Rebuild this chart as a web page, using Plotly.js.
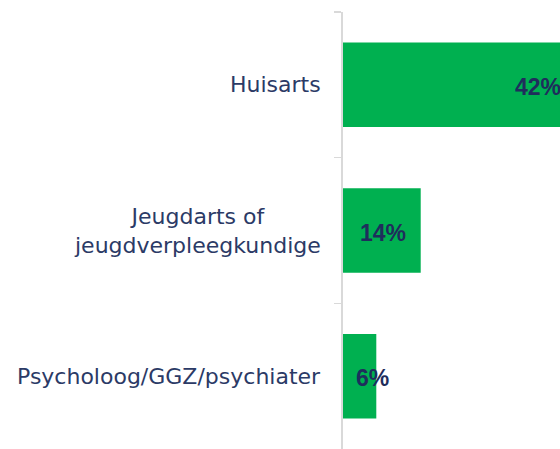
<!DOCTYPE html>
<html>
<head>
<meta charset="utf-8">
<script src="https://cdn.plot.ly/plotly-3.0.1.min.js"></script>
<style>
html, body { margin: 0; padding: 0; overflow: hidden; background: #ffffff; }
#chart { width: 600px; height: 449px; }
</style>
</head>
<body>
<div id="chart"></div>
<script>
var categories = ["Huisarts", "Jeugdarts of<br>jeugdverpleegkundige", "Psycholoog/GGZ/psychiater"];
var values = [42, 14, 6];
var valueLabels = ["42%", "14%", "6%"];

var labelColor = "#2b3a66";
var valueColor = "#1f2d5c";

var trace = {
  type: "bar",
  orientation: "h",
  y: categories,
  x: values,
  marker: { color: "#00b050" },
  hoverinfo: "none",
  textposition: "none"
};

var annotations = [];
categories.forEach(function (c, i) {
  annotations.push({
    xref: "paper", yref: "y", x: 0, y: c,
    xanchor: "right", yanchor: "middle", xshift: -20,
    text: c, showarrow: false, align: "center",
    font: { family: "DejaVu Sans", size: 22, color: labelColor }
  });
  var small = values[i] < 10;
  annotations.push({
    xref: "x", yref: "y", x: small ? 0 : values[i], y: c,
    xanchor: small ? "left" : "right", yanchor: "middle",
    xshift: small ? 11 : -13, yshift: -2,
    text: "<b>" + valueLabels[i] + "</b>", showarrow: false,
    font: { family: "Liberation Sans", size: 23, color: valueColor }
  });
});

var layout = {
  width: 600, height: 449,
  margin: { l: 343, r: 10, t: 12, b: 0, pad: 0 },
  paper_bgcolor: "#ffffff", plot_bgcolor: "#ffffff",
  showlegend: false,
  bargap: 0.42,
  xaxis: { range: [0, 44.5], visible: false, fixedrange: true },
  yaxis: {
    type: "category", range: [2.5, -0.5],
    showline: true, linecolor: "#d9d9d9", linewidth: 2,
    ticks: "outside", tickson: "boundaries", ticklen: 7, tickwidth: 1.5, tickcolor: "#d9d9d9",
    showticklabels: false, showgrid: false, zeroline: false, fixedrange: true
  },
  annotations: annotations
};

Plotly.newPlot("chart", [trace], layout, { displayModeBar: false, staticPlot: true });
</script>
</body>
</html>
